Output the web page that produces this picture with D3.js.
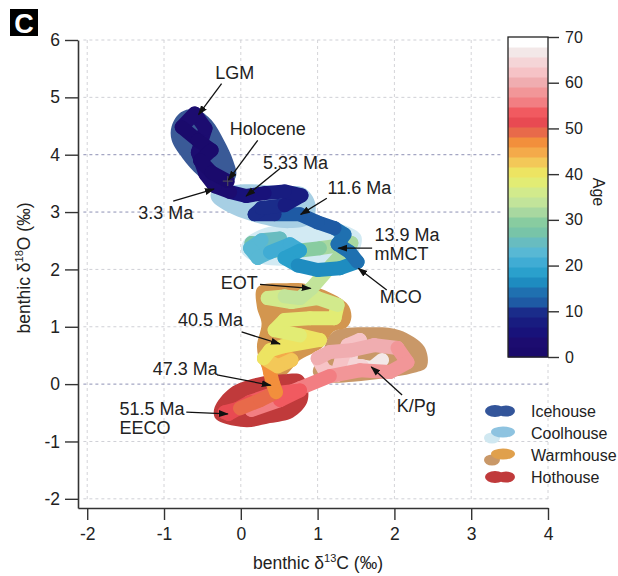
<!DOCTYPE html>
<html>
<head>
<meta charset="utf-8">
<script src="https://cdn.jsdelivr.net/npm/d3@7"></script>
<style>
  body { margin: 0; background: #fff; }
  text { font-family: "Liberation Sans", Arial, Helvetica, sans-serif; fill: #222; }
</style>
</head>
<body>
<div id="chart-area"></div>
<script>
// age-coloured trajectory (Ma), benthic d13C and d18O (per mil)
var ages = [0, 0.5, 1.0, 1.4, 1.8, 2.2, 2.6, 2.8, 3.0, 3.2, 3.3, 4.2, 5.33, 6.5, 7.5, 8.3, 9.0, 9.8, 10.5, 11.0, 11.6,
    12.3, 13.0, 13.5, 13.9, 14.5, 15.2, 16.0, 16.8, 17.5, 18.5, 19.5, 20.5, 21.5, 22.5, 23.5, 24.5, 25.5, 26.5, 27.5,
    28.5, 29.5, 30.5, 31.5, 32.3, 33.0, 33.9, 34.5, 35.0, 35.5, 36.0, 36.5, 37.0, 37.5, 38.0, 38.5, 39.0, 39.5, 40.0,
    40.5, 41.0, 41.5, 42.5, 43.5, 44.5, 45.5, 46.5, 47.3, 48.0, 49.0, 50.0, 51.0, 51.5, 52.0, 53.0, 54.0, 54.8, 55.5,
    56.0, 56.5, 57.0, 57.5, 58.0, 58.5, 59.0, 59.5, 60.0, 60.5, 61.0, 61.5, 62.0, 62.5, 63.0, 63.8, 64.5, 65.0, 65.5,
    66.0, 67.0];
var d13C = [-0.17, -0.38, -0.53, -0.38, -0.56, -0.77, -0.60, -0.46, -0.56, -0.46, -0.34, -0.14, 0.07, 0.31, 0.57, 0.79, 0.57, 0.27, 0.18, 0.44, 0.77,
    1.00, 1.22, 1.35, 1.26, 1.42, 1.52, 1.29, 1.00, 0.74, 0.57, 0.77, 0.64, 0.38, 0.22, 0.12, 0.27, 0.51, 0.31, 0.14,
    0.44, 0.77, 1.03, 1.29, 1.44, 1.18, 0.92, 0.77, 0.57, 0.35, 0.66, 1.00, 1.26, 1.22, 0.90, 0.57, 0.44, 0.77, 1.03,
    0.55, 0.38, 0.30, 0.48, 0.66, 0.51, 0.35, 0.38, 0.42, 0.46, 0.25, -0.01, -0.21, -0.16, 0.12, 0.44, 0.77, 0.51, 0.14,
    0.38, 0.77, 1.16, 1.55, 1.94, 2.17, 2.04, 1.74, 1.44, 1.16, 1.00, 1.09, 1.25, 1.31, 1.39, 1.55, 1.44, 1.42, 1.58,
    1.71, 1.84];
var d18O = [3.54, 3.69, 3.90, 4.08, 4.25, 4.48, 4.72, 4.46, 4.04, 3.66, 3.45, 3.35, 3.28, 3.33, 3.36, 3.29, 3.12, 3.07, 2.96, 2.96, 2.96,
    2.82, 2.72, 2.61, 2.44, 2.30, 2.13, 2.02, 1.99, 2.07, 2.20, 2.33, 2.44, 2.30, 2.20, 2.37, 2.51, 2.54, 2.42, 2.46,
    2.33, 2.33, 2.37, 2.42, 2.46, 2.07, 1.67, 1.50, 1.53, 1.50, 1.43, 1.50, 1.38, 1.15, 1.15, 1.12, 0.94, 0.85, 0.77,
    0.66, 0.59, 0.45, 0.31, 0.42, 0.56, 0.42, 0.21, 0.00, -0.14, -0.28, -0.42, -0.49, -0.52, -0.31, -0.16, -0.11, -0.28, -0.45,
    -0.28, -0.07, 0.14, 0.24, 0.21, 0.38, 0.63, 0.68, 0.59, 0.56, 0.45, 0.24, 0.16, 0.42, 0.68, 0.77, 0.56, 0.33, 0.31,
    0.28, 0.42];

// climate state envelopes [d13C, d18O]
var icehouse = [[-0.90, 4.50], [-0.78, 4.74], [-0.58, 4.79], [-0.38, 4.60], [-0.22, 4.25], [-0.10, 3.90], [-0.06, 3.64],
    [-0.17, 3.43], [-0.36, 3.45], [-0.56, 3.64], [-0.76, 3.94], [-0.90, 4.25]];
var coolhouseA = [[-0.38, 3.35], [-0.01, 3.48], [0.51, 3.45], [0.83, 3.42], [0.97, 3.15], [0.92, 2.82], [0.64, 2.72],
    [0.22, 2.81], [-0.17, 3.00], [-0.38, 3.21]];
var coolhouseB = [[0.04, 2.51], [0.31, 2.72], [0.90, 2.81], [1.35, 2.77], [1.57, 2.58], [1.49, 2.23], [1.16, 2.11],
    [0.64, 2.06], [0.18, 2.13], [0.01, 2.30]];
var warmhouseA = [[0.22, 1.69], [0.60, 1.76], [0.90, 1.73], [1.38, 1.41], [1.44, 1.17], [1.38, 0.99], [1.20, 0.91],
    [1.07, 0.65], [0.94, 0.54], [0.77, 0.42], [0.55, 0.12], [0.38, 0.07], [0.27, 0.30], [0.21, 0.65], [0.27, 1.06], [0.21, 1.34]];
var warmhouseB = [[1.07, 0.59], [1.20, 0.91], [1.64, 0.99], [2.07, 0.94], [2.39, 0.65], [2.42, 0.30], [2.23, 0.19],
    [1.90, 0.11], [1.46, 0.04], [1.12, 0.04], [0.94, 0.19]];
var hothouse = [[-0.34, -0.40], [-0.14, -0.07], [0.21, 0.11], [0.55, 0.17], [0.79, 0.16], [0.87, -0.05], [0.86, -0.33],
    [0.68, -0.58], [0.38, -0.68], [0.08, -0.75], [-0.23, -0.68], [-0.34, -0.58]];

// colour bar bands from 0 Ma upward
var bandColors = ["#1a0a6c", "#1c0c70", "#18127a", "#181c80", "#1a2c8a", "#1e5aa4", "#1f70b0", "#1e8cc0",
    "#2aa0cc", "#40acd4", "#58b8d4", "#68bcc0", "#78c4a8", "#88cca0", "#a8d8a0", "#c2e49a",
    "#d2ea8c", "#e2ec74", "#ede462", "#f3c858", "#f4aa4a", "#f28f3c", "#e86a4a", "#e84a52",
    "#f15a60", "#f27e82", "#f29698", "#f0adb0", "#f6c3c6", "#f5d5d7", "#f3e8e8", "#ffffff"];

var xTicks = [-2, -1, 0, 1, 2, 3, 4];
var yTicks = [-2, -1, 0, 1, 2, 3, 4, 5, 6];
var darkGridY = [0, 3, 4];
var ageTicks = [0, 10, 20, 30, 40, 50, 60, 70];

var legendNames = ["Icehouse", "Coolhouse", "Warmhouse", "Hothouse"];

// labels: text anchor point and arrow (from, to), in data units
var notes = [
    {t: ["LGM"], x: -0.08, y: 5.44, a: "middle", from: [-0.25, 5.24], to: [-0.55, 4.70]},
    {t: ["Holocene"], x: 0.35, y: 4.46, a: "middle", from: [0.22, 4.25], to: [-0.16, 3.56]},
    {t: ["5.33 Ma"], x: 0.29, y: 3.87, a: "start", from: [0.51, 3.76], to: [0.07, 3.28]},
    {t: ["3.3 Ma"], x: -0.62, y: 3.00, a: "end", from: [-0.88, 3.19], to: [-0.35, 3.40]},
    {t: ["11.6 Ma"], x: 1.13, y: 3.42, a: "start", from: [1.12, 3.24], to: [0.78, 2.96]},
    {t: ["13.9 Ma", "mMCT"], x: 1.74, y: 2.60, a: "start", from: [1.71, 2.37], to: [1.27, 2.37]},
    {t: ["MCO"], x: 1.81, y: 1.52, a: "start", from: [1.90, 1.64], to: [1.53, 2.02]},
    {t: ["EOT"], x: 0.22, y: 1.78, a: "end", from: [0.25, 1.74], to: [0.91, 1.67]},
    {t: ["40.5 Ma"], x: 0.03, y: 1.12, a: "end", from: [0.01, 0.91], to: [0.51, 0.70]},
    {t: ["47.3 Ma"], x: -0.30, y: 0.28, a: "end", from: [-0.31, 0.16], to: [0.39, -0.02]},
    {t: ["51.5 Ma", "EECO"], x: -1.58, y: -0.42, a: "start", from: [-0.71, -0.49], to: [-0.17, -0.52]},
    {t: ["K/Pg"], x: 2.03, y: -0.37, a: "start", from: [2.10, -0.19], to: [1.70, 0.30]}
];

var width = 618, height = 576;

var svg = d3.select("#chart-area").append("svg")
    .attr("width", width)
    .attr("height", height);

var defs = svg.append("defs");
defs.append("marker")
    .attr("id", "arrow")
    .attr("markerUnits", "userSpaceOnUse")
    .attr("markerWidth", 10).attr("markerHeight", 8)
    .attr("refX", 9).attr("refY", 4)
    .attr("orient", "auto")
  .append("path")
    .attr("d", "M0,0.5 L10,4 L0,7.5 z")
    .attr("fill", "#111");

var x = d3.scaleLinear().domain([-2.12, 4]).range([78, 548]);
var y = d3.scaleLinear().domain([-2.16, 6]).range([508, 40]);
var ageY = d3.scaleLinear().domain([0, 70]).range([357, 37]);
var ageColor = d3.scaleQuantize().domain([0, 70]).range(bandColors);

// grid
svg.append("g").selectAll("line")
    .data(xTicks)
    .enter().append("line")
        .attr("x1", function(d){ return x(d); })
        .attr("x2", function(d){ return x(d); })
        .attr("y1", y(6)).attr("y2", y(-2.05))
        .attr("stroke", "#d4d4d8")
        .attr("stroke-dasharray", "3,3");

svg.append("g").selectAll("line")
    .data(yTicks)
    .enter().append("line")
        .attr("x1", x(-2.05)).attr("x2", x(4))
        .attr("y1", function(d){ return y(d); })
        .attr("y2", function(d){ return y(d); })
        .attr("stroke", function(d){ return darkGridY.indexOf(d) >= 0 ? "#8d90b4" : "#cfd0d6"; })
        .attr("stroke-dasharray", "3,3");

// climate envelopes
var blob = d3.line()
    .x(function(d){ return x(d[0]); })
    .y(function(d){ return y(d[1]); })
    .curve(d3.curveCatmullRomClosed.alpha(0.5));

var envelopes = [
    {pts: icehouse, fill: "#3a5a97"},
    {pts: coolhouseB, fill: "#d2eaf3"},
    {pts: coolhouseA, fill: "#a7cfe4"},
    {pts: warmhouseB, fill: "#c99868"},
    {pts: warmhouseA, fill: "#d3964f"},
    {pts: hothouse, fill: "#c03a3b"}
];
svg.append("g").selectAll("path")
    .data(envelopes)
    .enter().append("path")
        .attr("d", function(d){ return blob(d.pts); })
        .attr("fill", function(d){ return d.fill; });

// trajectory, oldest drawn first
var segs = [];
for (var i = ages.length - 2; i >= 0; i--) {
    segs.push({x1: d13C[i], y1: d18O[i], x2: d13C[i + 1], y2: d18O[i + 1], age: (ages[i] + ages[i + 1]) / 2});
}
svg.append("g").selectAll("line")
    .data(segs)
    .enter().append("line")
        .attr("x1", function(d){ return x(d.x1); })
        .attr("y1", function(d){ return y(d.y1); })
        .attr("x2", function(d){ return x(d.x2); })
        .attr("y2", function(d){ return y(d.y2); })
        .attr("stroke", function(d){ return ageColor(d.age); })
        .attr("stroke-width", 14)
        .attr("stroke-linecap", "round");

// holocene marker
var hx = x(d13C[0]), hy = y(d18O[0]);
svg.append("path")
    .attr("d", "M" + (hx - 5) + "," + hy + "h10M" + hx + "," + (hy - 5) + "v10")
    .attr("stroke", "#555").attr("stroke-width", 1);

// annotations
var ann = svg.append("g");
notes.forEach(function(n){
    ann.append("line")
        .attr("x1", x(n.from[0])).attr("y1", y(n.from[1]))
        .attr("x2", x(n.to[0])).attr("y2", y(n.to[1]))
        .attr("stroke", "#111").attr("stroke-width", 1.3)
        .attr("marker-end", "url(#arrow)");
    var t = ann.append("text")
        .attr("x", x(n.x)).attr("y", y(n.y))
        .attr("text-anchor", n.a)
        .attr("font-size", 18);
    n.t.forEach(function(s, k){
        t.append("tspan").attr("x", x(n.x)).attr("dy", k === 0 ? "0.36em" : "1.05em").text(s);
    });
});

// axes
var yAxis = svg.append("g")
    .attr("transform", "translate(78,0)")
    .call(d3.axisLeft(y).tickValues(yTicks).tickSize(13).tickSizeOuter(0).tickPadding(5)
        .tickFormat(function(d){ return String(d); }));
var xAxis = svg.append("g")
    .attr("transform", "translate(0,508)")
    .call(d3.axisBottom(x).tickValues(xTicks).tickSize(12).tickSizeOuter(0).tickPadding(8)
        .tickFormat(function(d){ return String(d); }));
[yAxis, xAxis].forEach(function(g){
    g.selectAll("text").attr("font-size", 17.5).attr("fill", "#222")
        .attr("font-family", "Liberation Sans, Arial, sans-serif");
    g.selectAll("line").attr("stroke", "#333").attr("stroke-width", 1.4);
    g.select(".domain").attr("stroke", "#333").attr("stroke-width", 1.6);
});

var xt = svg.append("text")
    .attr("x", 318).attr("y", 569)
    .attr("text-anchor", "middle").attr("font-size", 17.5);
xt.append("tspan").text("benthic δ");
xt.append("tspan").attr("font-size", 11).attr("dy", -7).text("13");
xt.append("tspan").attr("dy", 7).text("C (‰)");

var yt = svg.append("text")
    .attr("transform", "translate(30,268) rotate(-90)")
    .attr("text-anchor", "middle").attr("font-size", 17.5);
yt.append("tspan").text("benthic δ");
yt.append("tspan").attr("font-size", 11).attr("dy", -7).text("18");
yt.append("tspan").attr("dy", 7).text("O (‰)");

// colour bar
var cb = svg.append("g");
cb.append("rect")
    .attr("x", 503).attr("y", 32).attr("width", 50).attr("height", 330)
    .attr("fill", "#fff");
var bandW = 70 / bandColors.length;
cb.selectAll("rect.band")
    .data(bandColors)
    .enter().append("rect")
        .attr("class", "band")
        .attr("x", 508).attr("width", 40)
        .attr("y", function(d, i){ return ageY((i + 1) * bandW); })
        .attr("height", function(d, i){ return ageY(i * bandW) - ageY((i + 1) * bandW) + 0.5; })
        .attr("fill", function(d){ return d; });
cb.append("rect")
    .attr("x", 508).attr("y", ageY(70)).attr("width", 40).attr("height", ageY(0) - ageY(70))
    .attr("fill", "none").attr("stroke", "#222").attr("stroke-width", 1.3);
var cbAxis = cb.append("g")
    .attr("transform", "translate(548,0)")
    .call(d3.axisRight(ageY).tickValues(ageTicks).tickSize(11).tickSizeOuter(0).tickPadding(6));
cbAxis.select(".domain").remove();
cbAxis.selectAll("text").attr("font-size", 16).attr("fill", "#222")
    .attr("font-family", "Liberation Sans, Arial, sans-serif");
cbAxis.selectAll("line").attr("stroke", "#333").attr("stroke-width", 1.4);
svg.append("text")
    .attr("transform", "translate(593,192) rotate(90)")
    .attr("text-anchor", "middle").attr("font-size", 16)
    .text("Age");

// legend
var legendShapes = [
    [{dx: -5, dy: 0, rx: 10, ry: 6, c: "#33559a"}, {dx: 6, dy: 0, rx: 9, ry: 5.5, c: "#33559a"}],
    [{dx: -8, dy: 5, rx: 8, ry: 5.5, c: "#d0e8f1"}, {dx: 3, dy: -1, rx: 12, ry: 5.5, c: "#8ec3e0"}],
    [{dx: -8, dy: 5, rx: 8, ry: 5.5, c: "#c99868"}, {dx: 3, dy: -1, rx: 12, ry: 5.5, c: "#e0a04c"}],
    [{dx: -5, dy: 0, rx: 10, ry: 6, c: "#c03a3b"}, {dx: 6, dy: 0, rx: 9, ry: 5.5, c: "#c03a3b"}]
];
var legend = svg.append("g").attr("transform", "translate(500,411)");
legendNames.forEach(function(name, i){
    var row = legend.append("g").attr("transform", "translate(0," + (i * 22) + ")");
    legendShapes[i].forEach(function(s){
        row.append("ellipse")
            .attr("cx", s.dx).attr("cy", s.dy).attr("rx", s.rx).attr("ry", s.ry)
            .attr("fill", s.c);
    });
    row.append("text")
        .attr("x", 31).attr("dy", "0.36em")
        .attr("font-size", 16)
        .text(name);
});

// panel letter
svg.append("rect")
    .attr("x", 10).attr("y", 9).attr("width", 28).attr("height", 27)
    .attr("fill", "#000");
svg.append("text")
    .attr("x", 24).attr("y", 33)
    .attr("text-anchor", "middle")
    .attr("font-size", 27).attr("font-weight", "bold")
    .style("fill", "#fff")
    .text("C");
</script>
</body>
</html>
